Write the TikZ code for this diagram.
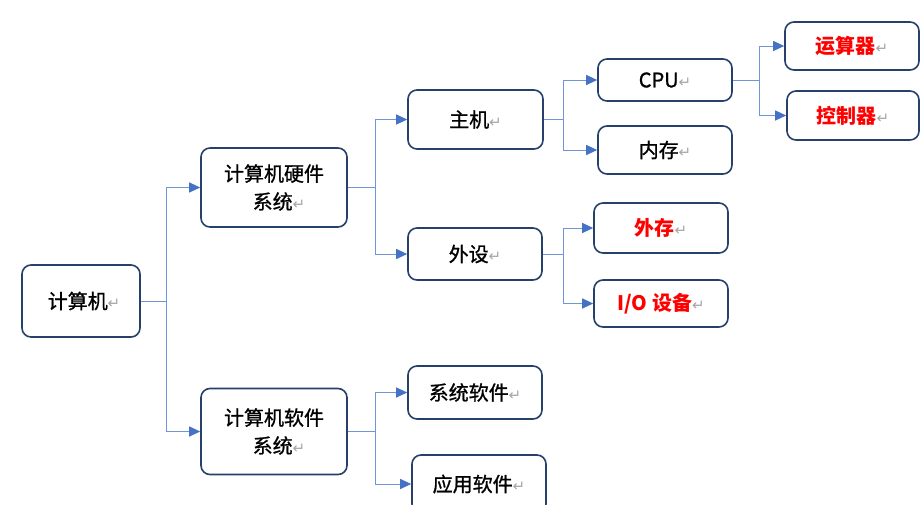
\documentclass[tikz,border=0pt]{standalone}
\usepackage{fontspec}
\setmainfont{Noto Sans CJK SC}
\newfontfamily\medfont{Noto Sans CJK SC}[FakeBold=1.0]
\newfontfamily\symfont{DejaVu Sans}
\usetikzlibrary{arrows.meta}
\definecolor{boxline}{HTML}{26406A}
\definecolor{connc}{HTML}{7196D8}
\definecolor{tipc}{HTML}{4472C4}
\definecolor{redtext}{HTML}{FF0000}
\newcommand{\ret}{{\symfont\color{black!35}\fontsize{15}{15}\selectfont ↵}}
\newcommand{\rd}[1]{{\rmfamily\bfseries\fontsize{20}{28}\selectfont\textcolor{redtext}{#1}}}
\tikzset{
  box/.style={draw=boxline, line width=1.6pt, rounded corners=9pt, fill=white,
    inner sep=0pt, align=center, font=\medfont\fontsize{20}{28}\selectfont},
  conn/.style={draw=connc, line width=1pt,
    -{Triangle[length=11pt,width=10pt,fill=tipc,color=tipc]}},
}
\begin{document}
\begin{tikzpicture}[x=1pt,y=-1pt]
\useasboundingbox (0,0) rectangle (921,504);
\clip (0,0) rectangle (921,504);
\fill[white] (0,0) rectangle (921,504);

\node[box, minimum width=118pt, minimum height=72pt] (comp) at (81,301) {\hspace*{6pt}计算机\ret};
\node[box, minimum width=146pt, minimum height=79pt] (hw) at (274,187.5) {计算机硬件\\\hspace*{10pt}系统\ret};
\node[box, minimum width=146pt, minimum height=86pt] (sw) at (274,431.5) {计算机软件\\\hspace*{10pt}系统\ret};

\node[box, minimum width=135pt, minimum height=59pt] (host) at (475.5,119.5) {主机\ret};
\node[box, minimum width=134pt, minimum height=52pt] (peri) at (475,254) {外设\ret};

\node[box, minimum width=134pt, minimum height=42pt] (cpu) at (665,80) {CPU\ret};
\node[box, minimum width=134pt, minimum height=48pt] (mem) at (665,150) {内存\ret};

\node[box, minimum width=134pt, minimum height=50pt] (ext) at (661,228) {\rd{外存}\ret};
\node[box, minimum width=134pt, minimum height=47pt] (io) at (661,303.5) {\rd{I/O 设备}\ret};

\node[box, minimum width=134pt, minimum height=48pt] (alu) at (852,46) {\rd{运算器}\ret};
\node[box, minimum width=132pt, minimum height=49pt] (ctl) at (853,115.5) {\rd{控制器}\ret};

\node[box, minimum width=134pt, minimum height=53pt] (sys) at (475,392.5) {系统软件\ret};
\node[box, minimum width=134pt, minimum height=58pt] (app) at (479,484) {应用软件\ret};

\coordinate (j1) at (166,301);
\coordinate (j2) at (375,187.5);
\coordinate (j3) at (375,431.5);
\coordinate (j4) at (563,119.5);
\coordinate (j5) at (563,254);
\coordinate (j6) at (759,80);

\draw[conn] (comp.east) -- (j1) |- (hw.west);
\draw[conn] (comp.east) -- (j1) |- (sw.west);
\draw[conn] (hw.east) -- (j2) |- (host.west);
\draw[conn] (hw.east) -- (j2) |- (peri.west);
\draw[conn] (sw.east) -- (j3) |- (sys.west);
\draw[conn] (sw.east) -- (j3) |- (app.west);
\draw[conn] (host.east) -- (j4) |- (cpu.west);
\draw[conn] (host.east) -- (j4) |- (mem.west);
\draw[conn] (peri.east) -- (j5) |- (ext.west);
\draw[conn] (peri.east) -- (j5) |- (io.west);
\draw[conn] (cpu.east) -- (j6) |- (alu.west);
\draw[conn] (cpu.east) -- (j6) |- (ctl.west);
\end{tikzpicture}
\end{document}
